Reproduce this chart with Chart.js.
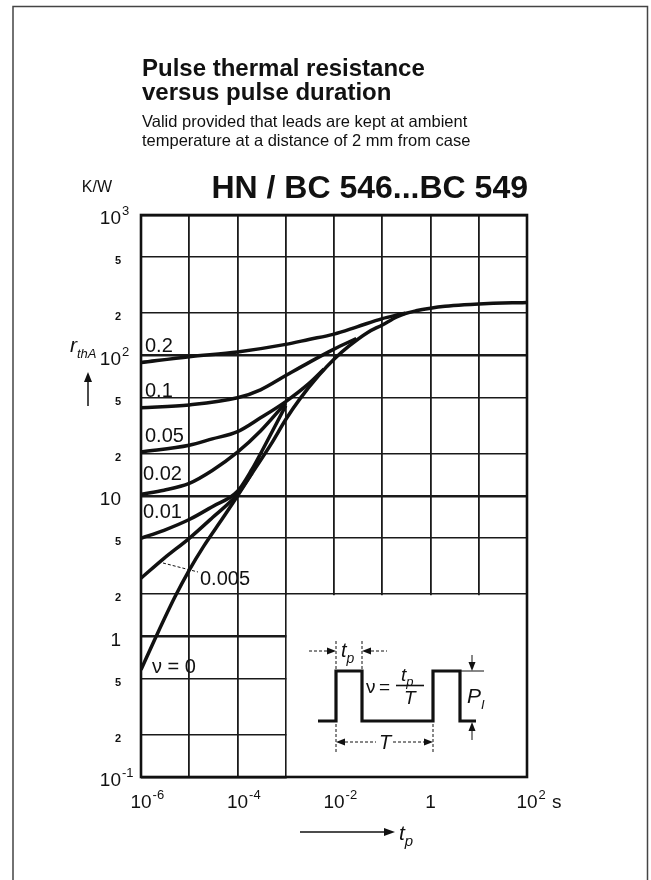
<!DOCTYPE html>
<html>
<head>
<meta charset="utf-8">
<script src="https://cdn.jsdelivr.net/npm/chart.js@4.4.0/dist/chart.umd.min.js"></script>
<style>
  html, body { margin: 0; padding: 0; background: #fff; }
  canvas { display: block; }
</style>
</head>
<body>
<canvas id="grafico" width="651" height="880"></canvas>
<script>
// Pulse thermal resistance r_thA (K/W) versus pulse duration t_p (s), one curve per duty cycle v

const tpV0 = [1e-6, 2e-6, 5e-6, 1e-5, 2e-5, 5e-5, 1e-4, 2e-4, 5e-4, 1e-3, 2e-3, 5e-3, 1e-2, 2e-2, 5e-2, 0.1, 0.2, 0.3, 0.5, 1, 2, 5, 10, 20, 50, 100];
const rV0 = [0.58, 0.98, 1.9, 2.97, 4.4, 7.0, 10, 14.5, 23.5, 35, 49.5, 73, 94, 116, 146, 165, 188, 199, 208, 217, 224, 230, 233, 235, 237, 238];

const tpV005 = [1e-6, 3e-6, 1e-5, 3e-5, 1e-4, 2e-4];
const rV005 = [2.6, 3.6, 5.0, 7.0, 10.3, 14.6];

const tpV01 = [1e-6, 3e-6, 1e-5, 3e-5, 1e-4, 2e-4, 3e-4, 1e-3];
const rV01 = [5.0, 5.7, 6.8, 8.4, 10.8, 15.5, 20, 44];

const tpV02 = [1e-6, 3e-6, 1e-5, 3e-5, 1e-4, 3e-4, 1e-3];
const rV02 = [10.3, 11.0, 12.3, 15.2, 20.5, 29, 46];

const tpV05 = [1e-6, 1e-5, 3e-5, 1e-4, 3e-4, 1e-3, 3e-3, 6.2e-3];
const rV05 = [20.6, 23, 25.5, 28.7, 36, 47, 63, 80];

const tpV1 = [1e-6, 1e-5, 1e-4, 3e-4, 1e-3, 3e-3, 1e-2, 2.9e-2];
const rV1 = [42.5, 44.5, 50, 57, 72, 89, 111, 132];

const tpV2 = [1e-6, 1e-5, 1e-4, 1e-3, 3e-3, 1e-2, 3e-2, 0.1, 0.2, 0.3];
const rV2 = [89, 98, 106, 120, 130, 142, 160, 183, 194, 200];

const curveLabels = ['ν = 0', '0.005', '0.01', '0.02', '0.05', '0.1', '0.2'];

// axes
const xGrid = [1e-6, 1e-5, 1e-4, 1e-3, 1e-2, 1e-1, 1, 1e1, 1e2];
const xTickValues = [1e-6, 1e-4, 1e-2, 1, 1e2];
const xTickLabels = ['10^-6', '10^-4', '10^-2', '1', '10^2 s'];
const yTickValues = [0.1, 0.2, 0.5, 1, 2, 5, 10, 20, 50, 100, 200, 500, 1000];
const yTickLabels = ['10^-1', '2', '5', '1', '2', '5', '10', '2', '5', '10^2', '2', '5', '10^3'];

const FONTE = "'Liberation Sans', Arial, sans-serif";

function pontos(tp, r) {
    return tp.map((t, i) => ({ x: t, y: r[i] }));
}

function isDecada(v) {
    const l = Math.log10(v);
    return Math.abs(l - Math.round(l)) < 1e-9;
}

// base with exponent, e.g. "10^-6" or "10^2 s"
function desenharPotencia(ctx, texto, x, baseline, alinhar) {
    const m = texto.match(/^([^\^ ]+)(?:\^(\S+))?(.*)$/);
    const base = m[1], exp = m[2] || '', resto = m[3] || '';
    ctx.font = "19px " + FONTE;
    ctx.textAlign = 'left';
    const wb = ctx.measureText(base).width;
    const x0 = alinhar === 'center' ? x - wb / 2 : x - wb;
    ctx.fillText(base, x0, baseline);
    let xe = x0 + wb + 1;
    if (exp) {
        ctx.font = "13px " + FONTE;
        ctx.fillText(exp, xe, baseline - 9);
        xe += ctx.measureText(exp).width;
    }
    if (resto) {
        ctx.font = "19px " + FONTE;
        ctx.fillText(resto, xe + 1, baseline);
    }
}

function ponta(ctx, x, y, dir, len, w) {
    len = len || 9; w = w || 3.5;
    ctx.beginPath();
    ctx.moveTo(x, y);
    if (dir === 'right') { ctx.lineTo(x - len, y - w); ctx.lineTo(x - len, y + w); }
    if (dir === 'left') { ctx.lineTo(x + len, y - w); ctx.lineTo(x + len, y + w); }
    if (dir === 'up') { ctx.lineTo(x - w, y + len); ctx.lineTo(x + w, y + len); }
    if (dir === 'down') { ctx.lineTo(x - w, y - len); ctx.lineTo(x + w, y - len); }
    ctx.closePath();
    ctx.fill();
}

function linha(ctx, x1, y1, x2, y2) {
    ctx.beginPath();
    ctx.moveTo(x1, y1);
    ctx.lineTo(x2, y2);
    ctx.stroke();
}

function italicoSub(ctx, letra, sub, x, baseline, tam, tamSub) {
    ctx.font = "italic " + tam + "px " + FONTE;
    ctx.textAlign = 'left';
    ctx.fillText(letra, x, baseline);
    const w = ctx.measureText(letra).width;
    ctx.font = "italic " + tamSub + "px " + FONTE;
    ctx.fillText(sub, x + w, baseline + tam * 0.28);
}

const textos = {
    id: 'textos',
    beforeDraw(chart) {
        const ctx = chart.ctx;
        ctx.save();
        ctx.fillStyle = '#fff';
        ctx.fillRect(0, 0, chart.width, chart.height);
        // page frame
        ctx.strokeStyle = '#444';
        ctx.lineWidth = 1.5;
        ctx.beginPath();
        ctx.moveTo(13, 880);
        ctx.lineTo(13, 6.5);
        ctx.lineTo(647.5, 6.5);
        ctx.lineTo(647.5, 880);
        ctx.stroke();
        ctx.restore();
    },
    beforeDatasetsDraw(chart) {
        // blank panel for the pulse sketch
        const ctx = chart.ctx, ca = chart.chartArea;
        const xs = chart.scales.x, ys = chart.scales.y;
        const bx = xs.getPixelForValue(1e-3) + 1;
        const by = ys.getPixelForValue(2) + 1;
        ctx.save();
        ctx.fillStyle = '#fff';
        ctx.fillRect(bx, by, ca.right - bx + 2, ca.bottom - by + 2);
        ctx.restore();
    },
    afterDatasetsDraw(chart) {
        const ctx = chart.ctx, ca = chart.chartArea;
        const xs = chart.scales.x, ys = chart.scales.y;
        ctx.save();
        ctx.fillStyle = '#111';
        ctx.strokeStyle = '#111';

        // plot frame
        ctx.lineWidth = 2.6;
        ctx.strokeRect(ca.left, ca.top, ca.right - ca.left, ca.bottom - ca.top);

        // titles
        ctx.textAlign = 'left';
        ctx.font = "bold 24px " + FONTE;
        ctx.fillText('Pulse thermal resistance', 142, 76);
        ctx.fillText('versus pulse duration', 142, 100);
        ctx.font = "16.5px " + FONTE;
        ctx.fillText('Valid provided that leads are kept at ambient', 142, 127);
        ctx.fillText('temperature at a distance of 2 mm from case', 142, 146);
        ctx.font = "bold 32px " + FONTE;
        ctx.textAlign = 'right';
        ctx.fillText('HN / BC 546...BC 549', ca.right + 1, 198);
        ctx.font = "16px " + FONTE;
        ctx.fillText('K/W', 112, 192);

        // y tick labels
        yTickValues.forEach((v, i) => {
            const py = ys.getPixelForValue(v);
            if (isDecada(v)) {
                desenharPotencia(ctx, yTickLabels[i], 121, py + 9, 'right');
            } else {
                ctx.font = "bold 11px " + FONTE;
                ctx.textAlign = 'center';
                ctx.fillText(yTickLabels[i], 118, py + 7);
            }
        });

        // x tick labels
        xTickValues.forEach((v, i) => {
            desenharPotencia(ctx, xTickLabels[i], xs.getPixelForValue(v), 808, 'center');
        });

        // axis titles with arrows
        italicoSub(ctx, 'r', 'thA', 70, 352, 21, 13);
        ctx.lineWidth = 1.5;
        linha(ctx, 88, 406, 88, 380);
        ponta(ctx, 88, 372, 'up', 10, 4);
        linha(ctx, 300, 832, 386, 832);
        ponta(ctx, 395, 832, 'right', 11, 4);
        italicoSub(ctx, 't', 'p', 399, 840, 21, 15);

        // curve labels
        ctx.font = "20px " + FONTE;
        ctx.textAlign = 'left';
        const posLabels = [[152, 673], [200, 585], [143, 518], [143, 480], [145, 442], [145, 397], [145, 352]];
        curveLabels.forEach((t, i) => ctx.fillText(t, posLabels[i][0], posLabels[i][1]));
        ctx.lineWidth = 1;
        ctx.setLineDash([3, 2]);
        linha(ctx, 163, 563, 198, 572);
        ctx.setLineDash([]);

        // pulse sketch
        ctx.lineWidth = 3.2;
        ctx.lineJoin = 'miter';
        ctx.beginPath();
        ctx.moveTo(318, 721);
        ctx.lineTo(336, 721); ctx.lineTo(336, 671); ctx.lineTo(362, 671); ctx.lineTo(362, 721);
        ctx.lineTo(433, 721); ctx.lineTo(433, 671); ctx.lineTo(460, 671); ctx.lineTo(460, 721);
        ctx.lineTo(476, 721);
        ctx.stroke();

        ctx.lineWidth = 1;
        ctx.setLineDash([3, 2]);
        linha(ctx, 336, 641, 336, 669);
        linha(ctx, 362, 641, 362, 669);
        linha(ctx, 309, 651, 327, 651);
        linha(ctx, 371, 651, 387, 651);
        linha(ctx, 336, 724, 336, 752);
        linha(ctx, 433, 724, 433, 752);
        linha(ctx, 345, 742, 376, 742);
        linha(ctx, 393, 742, 424, 742);
        ctx.setLineDash([]);
        ponta(ctx, 336, 651, 'right');
        ponta(ctx, 362, 651, 'left');
        ponta(ctx, 336, 742, 'left');
        ponta(ctx, 433, 742, 'right');
        italicoSub(ctx, 't', 'p', 341, 657, 20, 14);
        ctx.font = "italic 20px " + FONTE;
        ctx.fillText('T', 379, 749);

        ctx.font = "19px " + FONTE;
        ctx.fillText('ν', 366, 693);
        ctx.fillText('=', 379, 693);
        italicoSub(ctx, 't', 'p', 401, 681, 19, 13);
        ctx.lineWidth = 1.6;
        linha(ctx, 396, 685.5, 424, 685.5);
        ctx.font = "italic 19px " + FONTE;
        ctx.fillText('T', 404, 704);

        ctx.lineWidth = 1;
        linha(ctx, 460, 671, 484, 671);
        linha(ctx, 472, 655, 472, 662);
        ponta(ctx, 472, 671, 'down', 9, 3.5);
        linha(ctx, 472, 740, 472, 731);
        ponta(ctx, 472, 722, 'up', 9, 3.5);
        italicoSub(ctx, 'P', 'I', 467, 703, 21, 13);

        ctx.restore();
    }
};

const ctx = document.getElementById('grafico').getContext('2d');

const series = [
    [tpV0, rV0], [tpV005, rV005], [tpV01, rV01], [tpV02, rV02],
    [tpV05, rV05], [tpV1, rV1], [tpV2, rV2]
];

const grafico = new Chart(ctx, {
    type: 'line',
    data: {
        datasets: series.map((s, i) => ({
            label: curveLabels[i],
            data: pontos(s[0], s[1]),
            borderColor: '#111',
            borderWidth: 3.5,
            pointRadius: 0,
            fill: false,
            cubicInterpolationMode: 'monotone'
        }))
    },
    options: {
        responsive: false,
        animation: false,
        devicePixelRatio: 1,
        events: [],
        layout: { padding: { left: 141, right: 124, top: 215, bottom: 103 } },
        plugins: { legend: { display: false }, tooltip: { enabled: false } },
        scales: {
            x: {
                type: 'logarithmic',
                min: 1e-6,
                max: 100,
                afterBuildTicks: s => { s.ticks = xGrid.map(v => ({ value: v })); },
                afterFit: s => { s.height = 0; },
                ticks: { display: false },
                grid: { color: '#1a1a1a', lineWidth: 1.8, drawTicks: false },
                border: { display: false }
            },
            y: {
                type: 'logarithmic',
                min: 0.1,
                max: 1000,
                afterBuildTicks: s => { s.ticks = yTickValues.map(v => ({ value: v })); },
                afterFit: s => { s.width = 0; },
                ticks: { display: false },
                grid: {
                    color: '#1a1a1a',
                    lineWidth: c => (c.tick && isDecada(c.tick.value)) ? 2.6 : 1.6,
                    drawTicks: false
                },
                border: { display: false }
            }
        }
    },
    plugins: [textos]
});
</script>
</body>
</html>
